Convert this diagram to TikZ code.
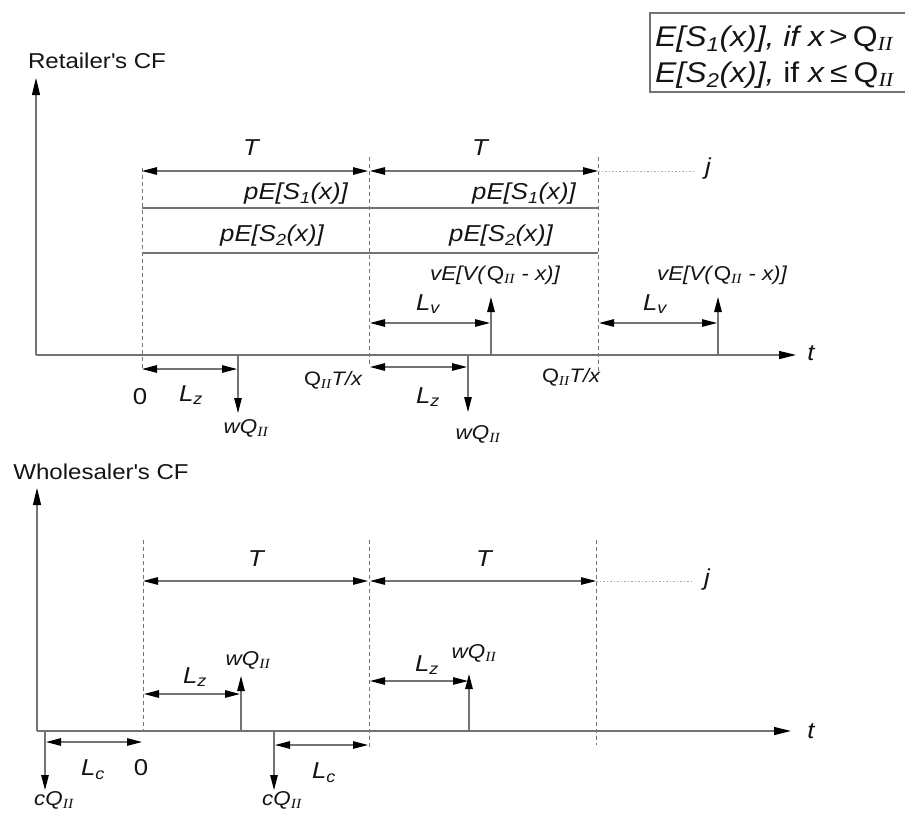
\documentclass[tikz,border=0pt]{standalone}
\usepackage{fontspec}
\setmainfont{Liberation Sans}[FakeStretch=1.12]
\newfontfamily\serfam{Liberation Serif}[FakeStretch=1.12]
\usetikzlibrary{arrows.meta}
\definecolor{lc}{RGB}{115,115,115}
\definecolor{tc}{RGB}{20,20,20}
\newcommand{\II}{\textsubscript{\serfam\itshape II}}
\newcommand{\Qii}{\textup{Q}\II}
\tikzset{
  ln/.style={draw=lc, line width=1.2pt},
  arrowln/.style={ln, -{Triangle[length=15pt,width=7.5pt,color=black]}},
  dimln/.style={ln, {Triangle[length=15pt,width=7.5pt,color=black]}-{Triangle[length=15pt,width=7.5pt,color=black]}},
  axisln/.style={ln, -{Triangle[length=17pt,width=8pt,color=black]}},
  dashln/.style={draw=lc, line width=1pt, dash pattern=on 4pt off 3pt},
  dotln/.style={draw=lc!60, line width=1pt, dash pattern=on 1.5pt off 2pt},
  lbl/.style={inner sep=0pt, text=tc, font=\fontsize{23}{27}\selectfont\itshape},
  small/.style={inner sep=0pt, text=tc, font=\fontsize{20}{24}\selectfont\itshape},
  tiny/.style={inner sep=0pt, text=tc, font=\fontsize{19.5}{22}\selectfont\itshape},
  head/.style={inner sep=0pt, text=tc, font=\fontsize{21.5}{25}\selectfont},
  legend/.style={inner sep=0pt, text=tc, font=\fontsize{28.5}{32}\selectfont, anchor=west},
}
\begin{document}
\begin{tikzpicture}[x=1pt,y=-1pt]
\useasboundingbox (0,0) rectangle (905,812);

% ===== legend =====
\coordinate (bx1) at (650,13);
\coordinate (bx2) at (930,92);
\draw[draw=lc, line width=1.2pt] (bx1) rectangle (bx2);
\node[legend] (leg1) at (655,39) {\itshape E[S\textsubscript{1}(x)], if x\hspace{5pt}\upshape>\hspace{5pt}\Qii};
\node[legend] (leg2) at (655,75) {\itshape E[S\textsubscript{2}(x)],\upshape\ if \itshape x\hspace{6pt}\upshape≤\hspace{6pt}\Qii};

% ===== Retailer's CF =====
\node[head] (rhead) at (97,61) {Retailer\textquotesingle s CF};
\coordinate (O1) at (36,355);
\coordinate (Y1) at (36,78);
\coordinate (X1) at (796,355);
\draw[axisln] (O1) -- (Y1);
\draw[axisln] (O1) -- (X1);
\node[lbl] (t1) at (811,353) {t};

\coordinate (a1t) at (142,168); \coordinate (a1b) at (142,370);
\coordinate (a2t) at (369,157); \coordinate (a2b) at (369,364);
\coordinate (a3t) at (598,157); \coordinate (a3b) at (598,375);
\draw[dashln] (a1t) -- (a1b);
\draw[dashln] (a2t) -- (a2b);
\draw[dashln] (a3t) -- (a3b);

\coordinate (T1a) at (142,171); \coordinate (T1b) at (368,171);
\coordinate (T2a) at (370,171); \coordinate (T2b) at (598,171);
\coordinate (J1) at (693,171);
\draw[dimln] (T1a) -- (T1b);
\draw[dimln] (T2a) -- (T2b);
\draw[dotln] (T2b) -- (J1);
\node[lbl] (T1) at (251,148) {T};
\node[lbl] (T2) at (480,148) {T};
\node[lbl] (j1) at (708,169) {j};

\coordinate (s1a) at (142,208); \coordinate (s1b) at (598,208);
\coordinate (s2a) at (142,253); \coordinate (s2b) at (598,253);
\draw[ln] (s1a) -- (s1b);
\draw[ln] (s2a) -- (s2b);
\node[lbl] (pS1a) at (296,194) {pE[S\textsubscript{1}(x)]};
\node[lbl] (pS1b) at (524,194) {pE[S\textsubscript{1}(x)]};
\node[lbl] (pS2a) at (272,236) {pE[S\textsubscript{2}(x)]};
\node[lbl] (pS2b) at (501,236) {pE[S\textsubscript{2}(x)]};

% salvage value arrows
\coordinate (v1b) at (491,355); \coordinate (v1t) at (491,297);
\coordinate (v2b) at (718,355); \coordinate (v2t) at (718,297);
\draw[arrowln] (v1b) -- (v1t);
\draw[arrowln] (v2b) -- (v2t);
\node[small] (vE1) at (495,275) {vE[V(\Qii\ - x)]};
\node[small] (vE2) at (722,275) {vE[V(\Qii\ - x)]};
\coordinate (Lv1a) at (370,323); \coordinate (Lv1b) at (490,323);
\coordinate (Lv2a) at (599,323); \coordinate (Lv2b) at (717,323);
\draw[dimln] (Lv1a) -- (Lv1b);
\draw[dimln] (Lv2a) -- (Lv2b);
\node[lbl] (Lv1) at (428,304) {L\textsubscript{v}};
\node[lbl] (Lv2) at (655,304) {L\textsubscript{v}};

% payment arrows
\coordinate (w1t) at (238,355); \coordinate (w1b) at (238,413);
\coordinate (w2t) at (468,355); \coordinate (w2b) at (468,412);
\draw[arrowln] (w1t) -- (w1b);
\draw[arrowln] (w2t) -- (w2b);
\coordinate (Lz1a) at (142,369); \coordinate (Lz1b) at (237,369);
\coordinate (Lz2a) at (370,367); \coordinate (Lz2b) at (467,367);
\draw[dimln] (Lz1a) -- (Lz1b);
\draw[dimln] (Lz2a) -- (Lz2b);
\node[lbl] (Lz1) at (191,395) {L\textsubscript{z}};
\node[lbl] (Lz2) at (428,397) {L\textsubscript{z}};
\node[small] (wQ1) at (246,428) {wQ\II};
\node[small] (wQ2) at (478,434) {wQ\II};
\node[lbl,font=\fontsize{23}{27}\selectfont] (zero1) at (140,397) {0};
\node[tiny] (QT1) at (333,380) {\Qii T/x};
\node[tiny] (QT2) at (571,377) {\Qii T/x};

% ===== Wholesaler's CF =====
\node[head] (whead) at (101,472) {Wholesaler\textquotesingle s CF};
\coordinate (O2) at (37,731);
\coordinate (Y2) at (37,488);
\coordinate (X2) at (791,731);
\draw[axisln] (O2) -- (Y2);
\draw[axisln] (O2) -- (X2);
\node[lbl] (t2) at (811,731) {t};

\coordinate (b1t) at (143,540); \coordinate (b1b) at (143,731);
\coordinate (b2t) at (369,540); \coordinate (b2b) at (369,750);
\coordinate (b3t) at (596,540); \coordinate (b3b) at (596,745);
\draw[dashln] (b1t) -- (b1b);
\draw[dashln] (b2t) -- (b2b);
\draw[dashln] (b3t) -- (b3b);

\coordinate (U1a) at (143,581); \coordinate (U1b) at (368,581);
\coordinate (U2a) at (370,581); \coordinate (U2b) at (596,581);
\coordinate (J2) at (692,581);
\draw[dimln] (U1a) -- (U1b);
\draw[dimln] (U2a) -- (U2b);
\draw[dotln] (U2b) -- (J2);
\node[lbl] (T3) at (256,559) {T};
\node[lbl] (T4) at (484,559) {T};
\node[lbl] (j2) at (707,580) {j};

% receipts from retailer
\coordinate (r1b) at (241,731); \coordinate (r1t) at (241,676);
\coordinate (r2b) at (469,731); \coordinate (r2t) at (469,674);
\draw[arrowln] (r1b) -- (r1t);
\draw[arrowln] (r2b) -- (r2t);
\coordinate (Lz3a) at (144,694); \coordinate (Lz3b) at (240,694);
\coordinate (Lz4a) at (370,681); \coordinate (Lz4b) at (468,681);
\draw[dimln] (Lz3a) -- (Lz3b);
\draw[dimln] (Lz4a) -- (Lz4b);
\node[lbl] (Lz3) at (195,677) {L\textsubscript{z}};
\node[lbl] (Lz4) at (427,665) {L\textsubscript{z}};
\node[small] (wQ3) at (248,660) {wQ\II};
\node[small] (wQ4) at (474,653) {wQ\II};

% production costs
\coordinate (c1t) at (45,731); \coordinate (c1b) at (45,790);
\coordinate (c2t) at (274,731); \coordinate (c2b) at (274,790);
\draw[arrowln] (c1t) -- (c1b);
\draw[arrowln] (c2t) -- (c2b);
\coordinate (Lc1a) at (46,742); \coordinate (Lc1b) at (142,742);
\coordinate (Lc2a) at (275,745); \coordinate (Lc2b) at (368,745);
\draw[dimln] (Lc1a) -- (Lc1b);
\draw[dimln] (Lc2a) -- (Lc2b);
\node[lbl] (Lc1) at (93,770) {L\textsubscript{c}};
\node[lbl] (Lc2) at (324,773) {L\textsubscript{c}};
\node[lbl,font=\fontsize{23}{27}\selectfont] (zero2) at (141,768) {0};
\node[small] (cQ1) at (54,800) {cQ\II};
\node[small] (cQ2) at (282,800) {cQ\II};
\end{tikzpicture}
\end{document}
